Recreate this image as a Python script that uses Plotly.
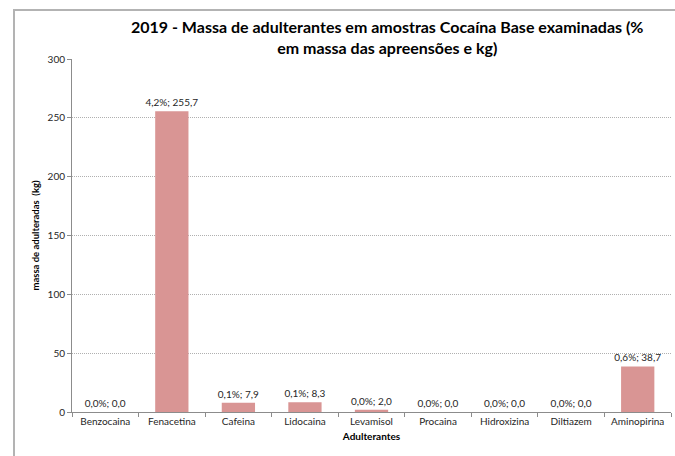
import plotly.graph_objects as go

# Adulterant categories and measured values
adulterantes = ["Benzocaina", "Fenacetina", "Cafeina", "Lidocaina", "Levamisol",
                "Procaina", "Hidroxizina", "Diltiazem", "Aminopirina"]
percentual = [0.0, 4.2, 0.1, 0.1, 0.0, 0.0, 0.0, 0.0, 0.6]
massa_kg = [0.0, 255.7, 7.9, 8.3, 2.0, 0.0, 0.0, 0.0, 38.7]
y_ticks = [0, 50, 100, 150, 200, 250, 300]


def fmt(v):
    return f"{v:.1f}".replace(".", ",")


labels = [f"{fmt(p)}%; {fmt(m)}" for p, m in zip(percentual, massa_kg)]

FONT = "Lato, Carlito, Calibri, sans-serif"
TXT = "#262626"

fig = go.Figure(
    go.Bar(
        x=adulterantes,
        y=massa_kg,
        text=labels,
        textposition="outside",
        constraintext="none",
        textfont=dict(size=10, color=TXT, family=FONT),
        cliponaxis=False,
        marker=dict(color="#d99594", line=dict(width=0)),
        width=0.5,
    )
)

# Plot geometry in pixels
W, H = 675, 456
L, R, T, B = 72, 4, 59, 44
pw, ph = W - L - R, H - T - B


def px_x(px):
    return (px - L) / pw


def px_y(py):
    return (H - B - py) / ph


fig.update_layout(
    width=W,
    height=H,
    margin=dict(l=L, r=R, t=T, b=B),
    paper_bgcolor="white",
    plot_bgcolor="white",
    showlegend=False,
    font=dict(family=FONT, color=TXT, size=10),
    bargap=0.5,
)

fig.update_xaxes(
    type="category",
    showline=True,
    linecolor="#8c8c8c",
    linewidth=1,
    ticks="outside",
    tickson="boundaries",
    ticklen=4,
    tickcolor="#8c8c8c",
    tickfont=dict(size=10, color=TXT, family=FONT),
    showgrid=False,
    title=dict(text="<b>Adulterantes</b>", font=dict(size=10, color="#000", family=FONT), standoff=6),
)

fig.update_yaxes(
    range=[0, 300],
    tickvals=y_ticks,
    showline=True,
    linecolor="#8c8c8c",
    linewidth=1,
    ticks="outside",
    ticklen=4,
    tickcolor="#8c8c8c",
    tickfont=dict(size=10, color=TXT, family=FONT),
    showgrid=True,
    gridcolor="#b0b0b0",
    griddash="1px,1px",
    gridwidth=1,
    zeroline=False,
    title=dict(text="<b>massa de adulteradas  (kg)</b>", font=dict(size=9.5, color="#000", family=FONT), standoff=6),
)

# Chart title
fig.add_annotation(
    text="<b>2019 - Massa de adulterantes em amostras Cocaína Base examinadas (%<br>em massa das apreensões e kg)</b>",
    xref="paper", yref="paper",
    x=px_x(387), y=px_y(37),
    xanchor="center", yanchor="middle",
    showarrow=False,
    align="center",
    font=dict(size=16, color="#000", family=FONT),
)

# Chart-area frame (left and top edges)
fig.add_shape(type="line", xref="paper", yref="paper",
              x0=px_x(14), x1=px_x(14), y0=px_y(10), y1=px_y(H + 2),
              line=dict(color="#b3b3b3", width=2))
fig.add_shape(type="line", xref="paper", yref="paper",
              x0=px_x(13), x1=px_x(W + 2), y0=px_y(10), y1=px_y(10),
              line=dict(color="#b3b3b3", width=2))

fig.write_html("out.html")
